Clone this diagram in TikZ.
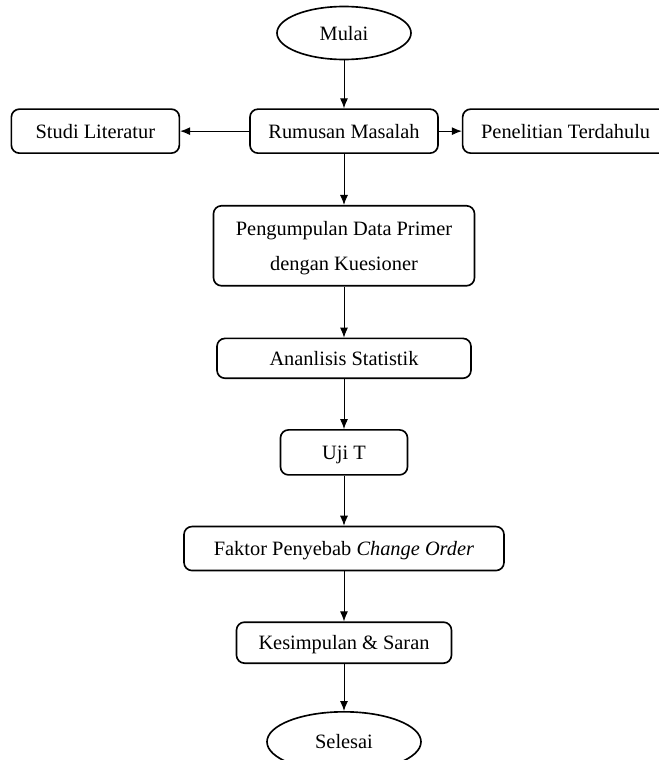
\documentclass[tikz,border=0pt]{standalone}
\usepackage{fontspec}
\setmainfont{Liberation Serif}
\usetikzlibrary{positioning,shapes.geometric,arrows.meta}
\begin{document}
\begin{tikzpicture}
  \newcommand{\rowsep}[0]{1.5cm}
  \newcommand{\leftsep}[0]{2.07cm}
  \newcommand{\rightsep}[0]{0.69cm}
  \newcommand{\boxtext}[1]{\fontsize{17.4}{30}\selectfont \begin{tabular}{c}#1\end{tabular}}
  \tikzstyle{block}     = [rectangle, rounded corners=2.4mm, draw=black, line width=1.4pt, minimum height=1.32cm, inner sep=2pt]
  \tikzstyle{terminal}  = [ellipse, draw=black, line width=1.4pt, inner sep=0pt]
  \tikzstyle{connector} = [line width=0.8pt, -{Latex[length=3mm, width=2.4mm]}]

  \useasboundingbox (-10.32,0.99) rectangle (9.45,-21.81);

  \node [terminal, minimum width=4.02cm, minimum height=1.59cm]                             (mulai)       {\boxtext{Mulai}};
  \node [block, minimum width=5.64cm, below = 1.44cm of mulai]                              (rumusan)     {\boxtext{Rumusan Masalah}};
  \node [block, minimum width=5.04cm, left = \leftsep of rumusan]                           (studi)       {\boxtext{Studi Literatur}};
  \node [block, minimum width=6.18cm, right = \rightsep of rumusan]                         (penelitian)  {\boxtext{Penelitian Terdahulu}};
  \node [block, minimum width=7.83cm, minimum height=2.4cm, below = 1.53cm of rumusan]      (pengumpulan) {\boxtext{Pengumpulan Data Primer\\dengan Kuesioner}};
  \node [block, minimum width=7.62cm, minimum height=1.17cm, below = 1.53cm of pengumpulan] (analisis)    {\boxtext{Ananlisis Statistik}};
  \node [block, minimum width=3.81cm, minimum height=1.35cm, below = \rowsep of analisis]   (ujit)        {\boxtext{Uji T}};
  \node [block, minimum width=9.6cm, below = \rowsep of ujit]                               (faktor)      {\boxtext{Faktor Penyebab \textit{Change Order}}};
  \node [block, minimum width=6.45cm, minimum height=1.23cm, below = \rowsep of faktor]     (kesimpulan)  {\boxtext{Kesimpulan \& Saran}};
  \node [terminal, minimum width=4.62cm, minimum height=1.8cm, below = 1.41cm of kesimpulan] (selesai)    {\boxtext{Selesai}};

  \draw [connector] (mulai)       edge (rumusan);
  \draw [connector] (rumusan)     edge (studi);
  \draw [connector] (rumusan)     edge (penelitian);
  \draw [connector] (rumusan)     edge (pengumpulan);
  \draw [connector] (pengumpulan) edge (analisis);
  \draw [connector] (analisis)    edge (ujit);
  \draw [connector] (ujit)        edge (faktor);
  \draw [connector] (faktor)      edge (kesimpulan);
  \draw [connector] (kesimpulan)  edge (selesai);
\end{tikzpicture}
\end{document}
